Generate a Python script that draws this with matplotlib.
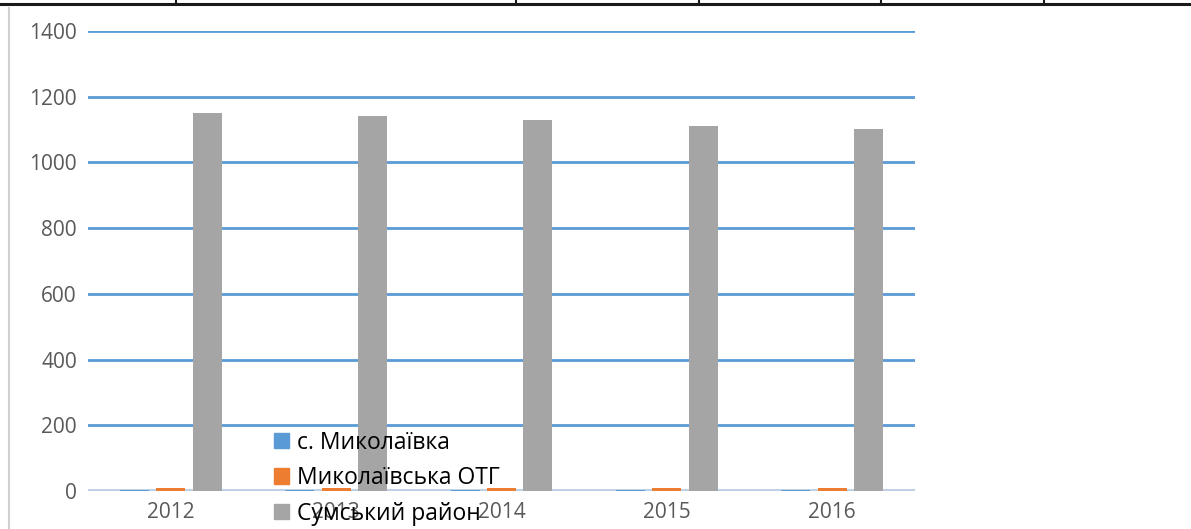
import numpy as np
import matplotlib.pyplot as plt
from matplotlib.lines import Line2D

plt.rcParams['font.family'] = ['Open Sans', 'DejaVu Sans']

years = ['2012', '2013', '2014', '2015', '2016']
village = [3, 3, 3, 3, 3]
otg = [8, 8, 8, 8, 8]
district = [1150, 1141, 1129, 1111, 1102]

series_names = ['с. Миколаївка', 'Миколаївська ОТГ', 'Сумський район']
colors = ['#5B9BD5', '#ED7D31', '#A5A5A5']

fig = plt.figure(figsize=(11.91, 5.29), dpi=100)
ax = fig.add_axes([88 / 1191, 1 - 491 / 529, 827 / 1191, 460 / 529])

x = np.arange(len(years))
w = 0.175
step = 0.22
ax.axhline(0, color='#BDD0E4', linewidth=3.5, zorder=2)
for i, (vals, name, c) in enumerate(zip([village, otg, district], series_names, colors)):
    ax.bar(x + (i - 1) * step, vals, width=w, color=c, label=name, zorder=3)

ax.set_xlim(-0.5, len(years) - 0.5)
ax.set_ylim(0, 1400)
ax.set_yticks(range(0, 1401, 200))
ax.set_xticks(x)
ax.set_xticklabels(years)
ax.yaxis.grid(True, color='#5B9BD5', linewidth=2, zorder=0)
for s in ax.spines.values():
    s.set_visible(False)
ax.tick_params(axis='both', length=0, labelsize=15, colors='#595959', pad=8)
ax.tick_params(axis='x', pad=8)

handles = [plt.Rectangle((0, 0), 1, 1, color=c) for c in colors]
leg = ax.legend(handles, series_names, loc='lower left', bbox_to_anchor=(0.2, -0.12),
                frameon=False, fontsize=16.5, handlelength=0.65, handleheight=0.65,
                handletextpad=0.35, labelspacing=0.5)
leg.set_zorder(5)

# border of the chart frame and the cropped table row above
fig.add_artist(Line2D([9 / 1191, 9 / 1191], [0, 1 - 8 / 529], color='#D0D0D0', linewidth=1.5))
fig.add_artist(Line2D([0, 1], [1 - 4 / 529, 1 - 4 / 529], color='#1A1A1A', linewidth=2.2))
for xd in [176, 516, 699, 881, 1044]:
    fig.add_artist(Line2D([xd / 1191, xd / 1191], [1 - 4 / 529, 1], color='#1A1A1A', linewidth=1.5))

fig.savefig('out.png', dpi=100)
